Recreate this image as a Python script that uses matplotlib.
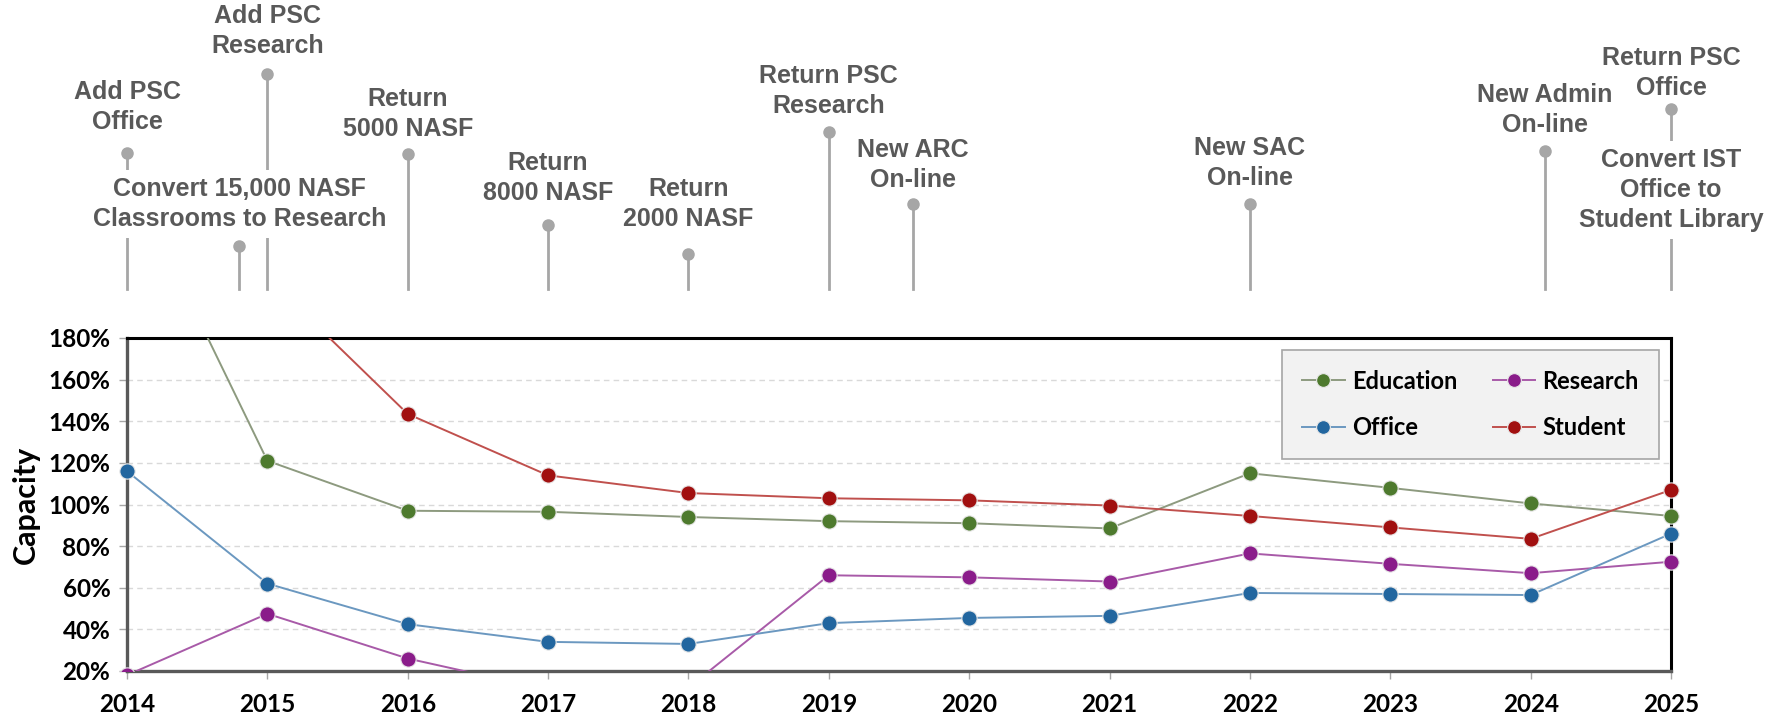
import matplotlib
matplotlib.use("Agg")
import matplotlib.pyplot as plt
from matplotlib.patches import Rectangle

# ---------------- datos ----------------
years = [2014, 2015, 2016, 2017, 2018, 2019, 2020, 2021, 2022, 2023, 2024, 2025]

education = [260, 121, 97, 96.5, 94, 92, 91, 88.5, 115, 108, 100.5, 94.5]
research = [18, 47.5, 26, 11, 12, 66, 65, 63, 76.5, 71.5, 67, 72.5]
office = [116, 62, 42.5, 34, 33, 43, 45.5, 46.5, 57.5, 57, 56.5, 86]
student = [235, 209, 143.5, 114, 105.5, 103, 102, 99.5, 94.5, 89, 83.5, 107]

y_ticks = [20, 40, 60, 80, 100, 120, 140, 160, 180]
y_labels = ["20%", "40%", "60%", "80%", "100%", "120%", "140%", "160%", "180%"]

# eventos de la linea de tiempo
event_years = [2014, 2015, 2014.8, 2016, 2017, 2018, 2019, 2019.6, 2022, 2024.1, 2025, 2025]
event_labels = [
    "Add PSC\nOffice",
    "Add PSC\nResearch",
    "Convert 15,000 NASF\nClassrooms to Research",
    "Return\n5000 NASF",
    "Return\n8000 NASF",
    "Return\n2000 NASF",
    "Return PSC\nResearch",
    "New ARC\nOn-line",
    "New SAC\nOn-line",
    "New Admin\nOn-line",
    "Return PSC\nOffice",
    "Convert IST\nOffice to\nStudent Library",
]

# alturas (en pixeles sobre la base de los palitos) - solo layout
dot_h = [136, 215, 43, 135, 64, 35, 157, 85, 85, 138, 180, None]
text_h = [182, 258, 85, 175, 111, 85, 198, 124, 126, 179, 216, 99]
covers = [False, False, True, False, False, False, False, False, False, False, False, True]

# ---------------- figura ----------------
fig = plt.figure(figsize=(17.79, 7.19), dpi=100)

ax = fig.add_axes([127 / 1779, 1 - 671 / 719, (1671 - 127) / 1779, 333 / 719])
top = fig.add_axes([127 / 1779, 1 - 289 / 719, (1671 - 127) / 1779, 289 / 719])

series = [
    ("Education", education, "#4e7a2e", "#8d9a7f"),
    ("Research", research, "#8a1c8a", "#a85aa8"),
    ("Office", office, "#22669f", "#6b98c0"),
    ("Student", student, "#a11010", "#c0504d"),
]
handles = {}
for nombre, vals, c_mark, c_line in series:
    h, = ax.plot(years, vals, color=c_line, lw=1.4, marker="o", markersize=11,
                 markerfacecolor=c_mark, markeredgecolor="#e8e8e8", markeredgewidth=0.8,
                 label=nombre, zorder=3)
    # recorte un poco mas ancho para que los puntos de 2014 y 2025 se vean enteros
    h.set_clip_path(Rectangle((-0.02, 0), 1.04, 1, transform=ax.transAxes))
    handles[nombre] = h

ax.set_xlim(2014, 2025)
ax.set_ylim(20, 180)
ax.set_xticks(years)
ax.set_xticklabels([str(a) for a in years])
ax.set_yticks(y_ticks)
ax.set_yticklabels(y_labels)
ax.yaxis.grid(True, ls=(0, (4, 3)), color="#d9d9d9", lw=1)
ax.set_axisbelow(True)

fuente = {"family": "Lato", "weight": "bold"}
for lab in ax.get_xticklabels() + ax.get_yticklabels():
    lab.set_fontfamily("Lato")
    lab.set_fontweight("bold")
    lab.set_fontsize(17.5)
ax.tick_params(axis="both", colors="#a6a6a6", labelcolor="black", length=6, width=1)
ax.tick_params(axis="x", pad=10)
ax.tick_params(axis="y", pad=6)
ax.set_ylabel("Capacity", fontsize=22, labelpad=6, **fuente)

for lado in ["left", "bottom"]:
    ax.spines[lado].set_color("#595959")
    ax.spines[lado].set_linewidth(2.4)
for lado in ["top", "right"]:
    ax.spines[lado].set_color("black")
    ax.spines[lado].set_linewidth(2.2)

orden = ["Education", "Office", "Research", "Student"]
leg = ax.legend([handles[n] for n in orden], orden, ncol=2, loc="upper right",
                bbox_to_anchor=(0.992, 0.965), borderaxespad=0, fancybox=False,
                facecolor="#f2f2f2", edgecolor="#a6a6a6", framealpha=1,
                prop={"family": "Lato", "weight": "bold", "size": 17},
                handlelength=1.8, handletextpad=0.3, columnspacing=1.5,
                labelspacing=1.0, borderpad=0.85, markerscale=0.9)
leg.get_frame().set_linewidth(1.2)

# ---------------- linea de tiempo arriba ----------------
top.set_xlim(2014, 2025)
top.set_ylim(0, 289)
top.axis("off")

gris = "#a6a6a6"
for x, d, t, lab, cub in zip(event_years, dot_h, text_h, event_labels, covers):
    if d is not None:
        top.plot([x, x], [0, d], color=gris, lw=2, zorder=1, clip_on=False)
        top.plot([x], [d], "o", color=gris, markersize=8, zorder=1, clip_on=False)
    caja = dict(boxstyle="square,pad=0.3", facecolor="white", edgecolor="none") if cub else None
    top.text(x, t, lab, ha="center", va="center", fontsize=18, fontweight="bold",
             family="Liberation Sans", color="#595959", linespacing=1.3,
             bbox=caja, zorder=2, clip_on=False)

fig.savefig("out.png", dpi=100)
